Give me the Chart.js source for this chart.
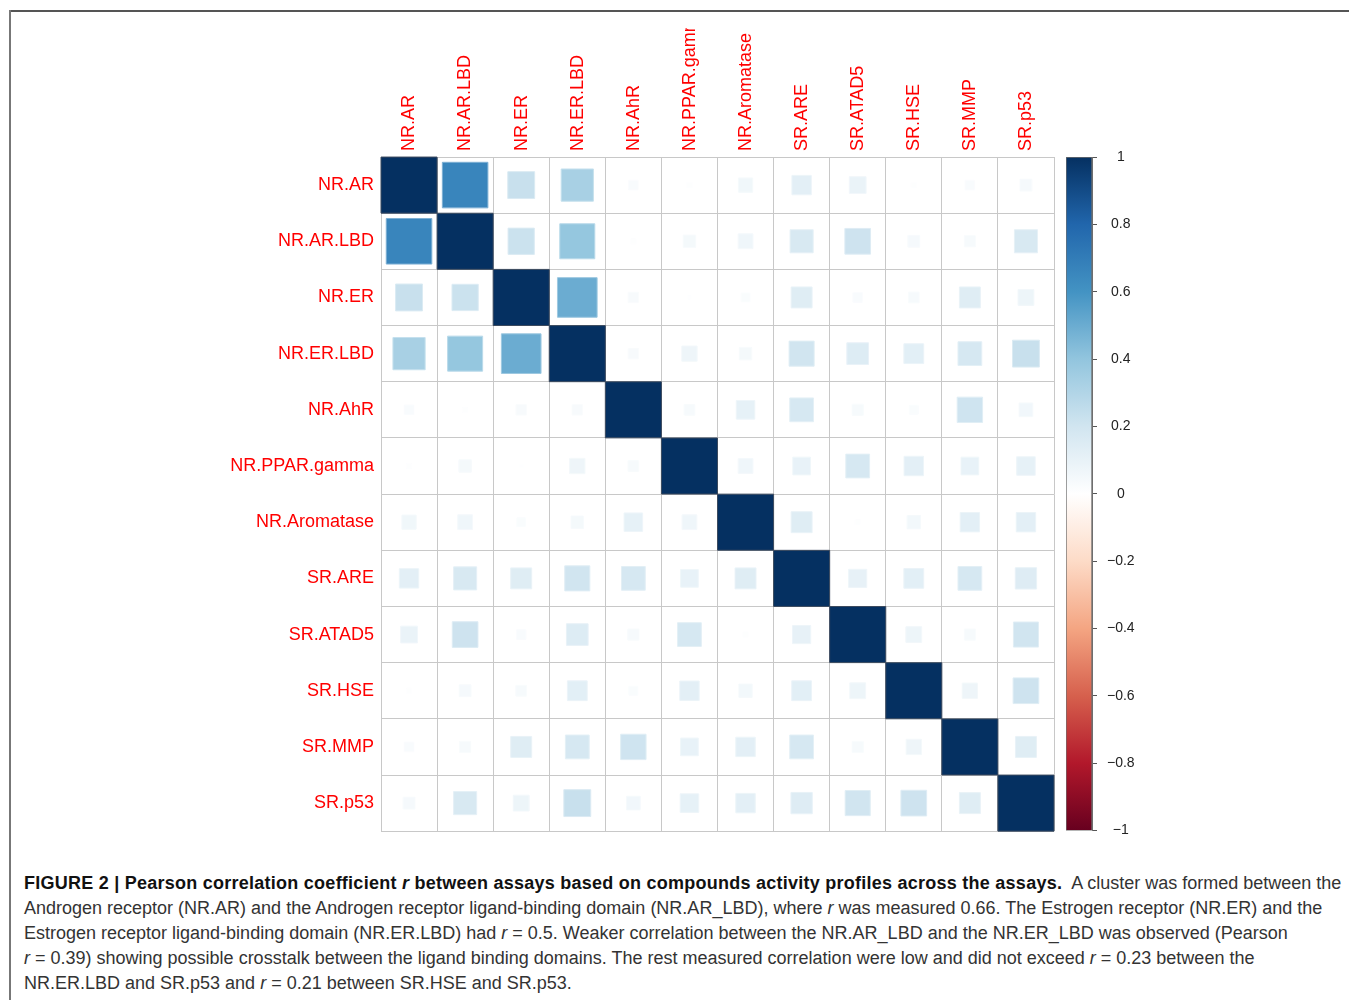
<!DOCTYPE html>
<html>
<head>
<meta charset="utf-8">
<script src="https://cdn.jsdelivr.net/npm/chart.js@4.4.1/dist/chart.umd.min.js"></script>
<style>
  body { margin: 0; background: #fff; width: 1349px; height: 1003px; overflow: hidden; position: relative; font-family: "Liberation Sans", Arial, sans-serif; }
  #frameTop { position: absolute; left: 9px; top: 10px; width: 1340px; height: 2px; background: #555; }
  #frameLeft { position: absolute; left: 9px; top: 10px; width: 2px; height: 990px; background: #777; }
  #matrixBox { position: absolute; left: 0; top: 28px; width: 1060px; height: 821px; }
  #barBox { position: absolute; left: 1040px; top: 0; width: 120px; height: 849px; }
  #caption { position: absolute; left: 24px; top: 871px; font-size: 18px; line-height: 25px; color: #333; white-space: nowrap; }
  #caption b { color: #111; letter-spacing: 0.25px; }
</style>
</head>
<body>
<div id="frameTop"></div>
<div id="frameLeft"></div>
<div id="matrixBox"><canvas id="matrix" width="1060" height="821"></canvas></div>
<div id="barBox"><canvas id="colorbar" width="120" height="849"></canvas></div>
<div id="caption">
<b>FIGURE 2 | Pearson correlation coefficient <i>r</i> between assays based on compounds activity profiles across the assays.</b>&nbsp; A cluster was formed between the<br>
Androgen receptor (NR.AR) and the Androgen receptor ligand-binding domain (NR.AR_LBD), where <i>r</i> was measured 0.66. The Estrogen receptor (NR.ER) and the<br>
Estrogen receptor ligand-binding domain (NR.ER.LBD) had <i>r</i> = 0.5. Weaker correlation between the NR.AR_LBD and the NR.ER_LBD was observed (Pearson<br>
<i>r</i> = 0.39) showing possible crosstalk between the ligand binding domains. The rest measured correlation were low and did not exceed <i>r</i> = 0.23 between the<br>
NR.ER.LBD and SR.p53 and <i>r</i> = 0.21 between SR.HSE and SR.p53.
</div>
<script>
// assays, same order on both axes
var assays = ['NR.AR', 'NR.AR.LBD', 'NR.ER', 'NR.ER.LBD', 'NR.AhR', 'NR.PPAR.gamma', 'NR.Aromatase',
              'SR.ARE', 'SR.ATAD5', 'SR.HSE', 'SR.MMP', 'SR.p53'];

// pearson r
var corr = [
  [1.00, 0.66, 0.23, 0.33, 0.03, 0.01, 0.065, 0.12, 0.09, 0.01, 0.03, 0.045],
  [0.66, 1.00, 0.22, 0.39, 0.01, 0.05, 0.07, 0.17, 0.21, 0.045, 0.04, 0.17],
  [0.23, 0.22, 1.00, 0.50, 0.035, 0.005, 0.025, 0.14, 0.03, 0.037, 0.14, 0.08],
  [0.33, 0.39, 0.50, 1.00, 0.035, 0.075, 0.05, 0.20, 0.15, 0.125, 0.18, 0.23],
  [0.03, 0.01, 0.035, 0.035, 1.00, 0.037, 0.11, 0.18, 0.04, 0.026, 0.205, 0.06],
  [0.01, 0.05, 0.005, 0.075, 0.037, 1.00, 0.07, 0.10, 0.18, 0.12, 0.10, 0.11],
  [0.065, 0.07, 0.025, 0.05, 0.11, 0.07, 1.00, 0.14, 0.01, 0.057, 0.12, 0.12],
  [0.12, 0.17, 0.14, 0.20, 0.18, 0.10, 0.14, 1.00, 0.105, 0.125, 0.18, 0.145],
  [0.09, 0.21, 0.03, 0.15, 0.04, 0.18, 0.01, 0.105, 1.00, 0.08, 0.04, 0.20],
  [0.01, 0.045, 0.037, 0.125, 0.026, 0.12, 0.057, 0.125, 0.08, 1.00, 0.075, 0.21],
  [0.03, 0.04, 0.14, 0.18, 0.205, 0.10, 0.12, 0.18, 0.04, 0.075, 1.00, 0.14],
  [0.045, 0.17, 0.08, 0.23, 0.06, 0.11, 0.12, 0.145, 0.20, 0.21, 0.14, 1.00]
];

// colour bar ticks
var barTicks = [-1, -0.8, -0.6, -0.4, -0.2, 0, 0.2, 0.4, 0.6, 0.8, 1];

// RdBu ramp used by corrplot, from -1 to 1
var palette = ['#67001F', '#B2182B', '#D6604D', '#F4A582', '#FDDBC7', '#FFFFFF',
               '#D1E5F0', '#92C5DE', '#4393C3', '#2166AC', '#053061'];

function hexRgb(h) {
    return [parseInt(h.substr(1, 2), 16), parseInt(h.substr(3, 2), 16), parseInt(h.substr(5, 2), 16)];
}

function colorFor(v, mixWhite) {
    var t = (v + 1) / 2 * (palette.length - 1);
    var i = Math.min(Math.floor(t), palette.length - 2);
    var f = t - i;
    var a = hexRgb(palette[i]), b = hexRgb(palette[i + 1]);
    var c = [0, 1, 2].map(function (k) {
        var x = a[k] + (b[k] - a[k]) * f;
        if (mixWhite) x = x + (255 - x) * mixWhite;
        return Math.round(x);
    });
    return 'rgb(' + c.join(',') + ')';
}

var points = [];
for (var i = 0; i < assays.length; i++) {
    for (var j = 0; j < assays.length; j++) {
        points.push({ x: assays[j], y: assays[i], v: corr[i][j] });
    }
}

var labelFont = { family: '"Liberation Sans", Arial, sans-serif', size: 18 };
var gridColor = '#c8c8c8';

new Chart(document.getElementById('matrix'), {
    type: 'scatter',
    data: {
        datasets: [{
            data: points,
            pointStyle: 'rect',
            pointRadius: function (ctx) {
                var v = ctx.raw ? ctx.raw.v : 0;
                var xs = ctx.chart.scales.x;
                var cell = Math.abs(xs.getPixelForValue(1) - xs.getPixelForValue(0));
                return Math.sqrt(Math.abs(v)) * cell / Math.SQRT2;
            },
            pointBackgroundColor: function (ctx) {
                return ctx.raw ? colorFor(ctx.raw.v) : '#fff';
            },
            pointBorderColor: function (ctx) {
                if (!ctx.raw) return '#fff';
                return ctx.raw.v >= 0.999 ? '#3c4a5e' : colorFor(ctx.raw.v, 0.35);
            },
            pointBorderWidth: 1
        }]
    },
    options: {
        responsive: false,
        animation: false,
        events: [],
        layout: { padding: { left: 0, top: 0, right: 6, bottom: 9 } },
        plugins: { legend: { display: false }, tooltip: { enabled: false } },
        scales: {
            x: {
                type: 'category',
                labels: assays,
                position: 'top',
                offset: true,
                grid: { offset: true, color: gridColor, drawTicks: false },
                border: { color: gridColor },
                ticks: { color: '#ff0000', font: labelFont, minRotation: 90, maxRotation: 90, autoSkip: false, padding: 6, labelOffset: 22 },
                afterFit: function (scale) { scale.height = 129; }
            },
            y: {
                type: 'category',
                labels: assays,
                offset: true,
                grid: { offset: true, color: gridColor, drawTicks: false },
                border: { color: gridColor },
                ticks: { color: '#ff0000', font: labelFont, autoSkip: false, padding: 7 },
                afterFit: function (scale) { scale.width = 381; }
            }
        }
    }
});

new Chart(document.getElementById('colorbar'), {
    type: 'bar',
    data: {
        labels: [''],
        datasets: [{
            data: [[barTicks[0], barTicks[barTicks.length - 1]]],
            backgroundColor: function (ctx) {
                var area = ctx.chart.chartArea;
                if (!area) return '#fff';
                var g = ctx.chart.ctx.createLinearGradient(0, area.bottom, 0, area.top);
                palette.forEach(function (c, k) { g.addColorStop(k / (palette.length - 1), c); });
                return g;
            },
            borderColor: '#6e6e6e',
            borderWidth: 1,
            borderSkipped: false,
            barPercentage: 1,
            categoryPercentage: 1
        }]
    },
    options: {
        responsive: false,
        animation: false,
        events: [],
        layout: { padding: { left: 26, top: 157, right: 0, bottom: 0 } },
        plugins: { legend: { display: false }, tooltip: { enabled: false } },
        scales: {
            x: { display: false },
            y: {
                position: 'right',
                min: -1,
                max: 1,
                afterBuildTicks: function (scale) {
                    scale.ticks = barTicks.map(function (v) { return { value: v }; });
                },
                grid: { drawOnChartArea: false, drawTicks: true, tickLength: 5, color: '#555' },
                border: { display: true, color: '#6e6e6e' },
                ticks: {
                    color: '#222',
                    font: { family: '"Liberation Sans", Arial, sans-serif', size: 14 },
                    crossAlign: 'center',
                    padding: 10,
                    callback: function (value) {
                        var v = Math.round(value * 10) / 10;
                        if (v === 0) return '0';
                        return (v < 0 ? '\u2212' : '') + String(Math.abs(v));
                    }
                },
                afterFit: function (scale) { scale.width = 68; }
            }
        }
    }
});
</script>
</body>
</html>
